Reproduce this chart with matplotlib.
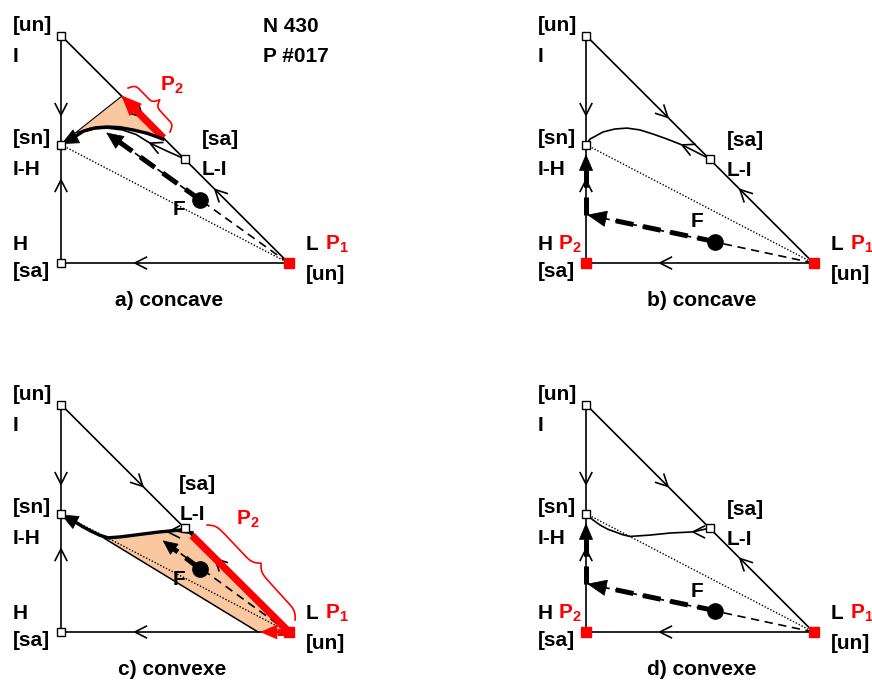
# Diagrammes ternaires I / H / L : chemins de distillation (concave / convexe)
import numpy as np
import matplotlib.pyplot as plt
from matplotlib.patches import Polygon

plt.rcParams['font.family'] = ['Liberation Sans', 'DejaVu Sans']
plt.rcParams['font.weight'] = 'bold'
plt.rcParams['mathtext.fontset'] = 'custom'
plt.rcParams['mathtext.rm'] = 'Liberation Sans:bold'
plt.rcParams['mathtext.bf'] = 'Liberation Sans:bold'
plt.rcParams['lines.scale_dashes'] = False

# Données (x = fraction de L, y = fraction de I)
tri_x = [0.0, 0.0, 1.0, 0.0]
tri_y = [1.0, 0.0, 0.0, 1.0]
pt_I = (0.0, 1.0)
pt_H = (0.0, 0.0)
pt_L = (1.0, 0.0)
pt_IH = (0.0, 0.52)
pt_LI = (0.545, 0.457)

F_ac = (0.611, 0.278)
F_bd = (0.567, 0.094)

# a) concave
courbe_a_x = [0.545, 0.47, 0.391, 0.33, 0.27, 0.202, 0.15, 0.10, 0.05, 0.015]
courbe_a_y = [0.457, 0.49, 0.527, 0.565, 0.585, 0.593, 0.59, 0.578, 0.555, 0.532]
epais_a_x = [0.448, 0.38, 0.316, 0.26, 0.202, 0.15, 0.10, 0.06]
epais_a_y = [0.545, 0.57, 0.585, 0.595, 0.598, 0.594, 0.58, 0.555]
orange_a_x = [0.268, 0.062, 0.127, 0.202, 0.316, 0.448]
orange_a_y = [0.734, 0.571, 0.593, 0.598, 0.585, 0.545]
rouge_a = [(0.45, 0.55), (0.268, 0.734)]
cible_a = (0.202, 0.571)
accolade_a = [(0.295, 0.769), (0.479, 0.576)]

# b) concave
courbe_b_x = [0.545, 0.484, 0.422, 0.356, 0.294, 0.237, 0.18, 0.127, 0.075, 0.018, 0.0]
courbe_b_y = [0.457, 0.488, 0.519, 0.545, 0.567, 0.585, 0.593, 0.589, 0.576, 0.545, 0.52]
cible_bd = (0.009, 0.211)
montee_bd = [(0.0, 0.211), (0.0, 0.475)]

# c) convexe
courbe_c_x = [0.545, 0.50, 0.47, 0.435]
courbe_c_y = [0.457, 0.447, 0.442, 0.440]
epais_c_x = [0.576, 0.51, 0.435, 0.37, 0.316, 0.26, 0.207, 0.171, 0.135, 0.097, 0.065]
epais_c_y = [0.436, 0.447, 0.440, 0.432, 0.425, 0.418, 0.414, 0.425, 0.442, 0.462, 0.482]
orange_c_x = [0.576, 1.0, 0.866, 0.19, 0.26, 0.316, 0.435, 0.51]
orange_c_y = [0.424, 0.0, 0.0, 0.412, 0.418, 0.425, 0.44, 0.447]
bord_c = [(0.19, 0.412), (0.866, 0.0)]
rouge_c = [(0.576, 0.424), (1.0, 0.0)]
retour_c = [(1.0, 0.0), (0.879, 0.0)]
cible_c = (0.45, 0.40)
accolade_c = [(0.642, 0.470), (1.029, 0.053)]

# d) convexe
courbe_d_x = [0.545, 0.47, 0.369, 0.281, 0.193, 0.16, 0.136, 0.095, 0.062, 0.03, 0.0]
courbe_d_y = [0.457, 0.44, 0.435, 0.426, 0.42, 0.428, 0.437, 0.452, 0.470, 0.493, 0.519]

# petites flèches ouvertes sur les bords : (x, y, dx, dy)
chevrons_bords = [(0.0, 0.65, 0, -1), (0.0, 0.365, 0, 1), (0.325, 0.0, -1, 0),
                  (0.36, 0.64, 1, -1), (0.677, 0.323, -1, 1)]
chevron_a = (0.391, 0.527, -1, 0.45)
chevron_b = (0.422, 0.519, -1, 0.45)
chevron_cd = (0.47, 0.44, -1, 0.0)

titres = ['a) concave', 'b) concave', 'c) convexe', 'd) convexe']
titres_x = [0.475, 0.51, 0.49, 0.51]

S = 227.5
ORANGE = '#f9c8a0'
ROUGE = '#ff0000'
TAILLE = 15

fig = plt.figure(figsize=(8.72, 6.8), dpi=100)


def creer_axe(ox, oy):
    ax = fig.add_axes([(ox - 61) / 872, (680 - (oy + 77)) / 680, 436 / 872, 340 / 680])
    ax.set_xlim(-61 / S, 375 / S)
    ax.set_ylim(-77 / S, 263 / S)
    ax.axis('off')
    return ax


def tete(ax, pointe, origine, long, demi, couleur='k', z=6):
    p = np.array(pointe, float)
    d = p - np.array(origine, float)
    d /= np.hypot(*d)
    n = np.array([-d[1], d[0]])
    base = p - d * long
    ax.add_patch(Polygon([p, base + n * demi, base - n * demi], closed=True,
                         facecolor=couleur, edgecolor=couleur, lw=0.5, zorder=z))
    return base


def chevron(ax, c, z=2):
    x, y, dx, dy = c
    d = np.array([dx, dy], float)
    d /= np.hypot(*d)
    for ang in (27, -27):
        a = np.radians(ang)
        r = np.array([[np.cos(a), -np.sin(a)], [np.sin(a), np.cos(a)]]) @ (-d) * 0.06
        ax.plot([x, x + r[0]], [y, y + r[1]], color='k', lw=1.2, zorder=z,
                solid_capstyle='butt')


def accolade(ax, p0, p1, h):
    p0 = np.array(p0, float)
    p1 = np.array(p1, float)
    L = np.hypot(*(p1 - p0))
    d = (p1 - p0) / L
    n = np.array([-d[1], d[0]])
    s = np.linspace(0, 1, 201)
    demi = s[:101]
    beta = 38
    yh = 1 / (1 + np.exp(-beta * demi)) + 1 / (1 + np.exp(-beta * (demi - 0.5)))
    y = np.concatenate((yh, yh[-2::-1])) - 0.5
    pts = p0 + np.outer(s * L, d) + np.outer(y * h, n)
    ax.plot(pts[:, 0], pts[:, 1], color=ROUGE, lw=1.2, zorder=3)


def fleche_tiretee(ax, F, cible, long=0.075, demi=0.033):
    base = tete(ax, cible, F, long, demi)
    ax.plot([F[0], base[0]], [F[1], base[1]], color='k', lw=3.6,
            dashes=(13, 7), zorder=5, solid_capstyle='butt', dash_capstyle='butt')
    ax.plot([pt_L[0], cible[0]], [pt_L[1], cible[1]], color='k', lw=1.2,
            dashes=(6, 4), zorder=2)
    ax.plot(*F, 'o', color='k', ms=11, zorder=7)


def base_triangle(ax, rouges):
    ax.plot(tri_x, tri_y, color='k', lw=1.2, zorder=2)
    ax.plot([pt_IH[0], pt_L[0]], [pt_IH[1], pt_L[1]], color='k', lw=1.0,
            ls=(0, (1, 1.3)), zorder=2)
    for c in chevrons_bords:
        chevron(ax, c)
    for p in [pt_I, pt_IH, pt_LI, pt_H]:
        ax.plot(*p, 's', ms=5.5, mfc='white', mec='k', mew=1.0, zorder=8)
    for p in rouges:
        ax.plot(*p, 's', ms=6.5, color=ROUGE, zorder=9)


def etiquettes(ax, xdroite, ydroite, titre, xtitre, F_lab):
    txt = dict(fontsize=TAILLE, fontweight='bold', va='baseline', zorder=10)
    ax.text(-0.211, 1.020, '[un]', **txt)
    ax.text(-0.211, 0.884, 'I', **txt)
    ax.text(-0.211, 0.523, '[sn]', **txt)
    ax.text(-0.211, 0.387, 'I-H', **txt)
    ax.text(-0.211, 0.057, 'H', **txt)
    ax.text(-0.211, -0.062, '[sa]', **txt)
    ax.text(xdroite, ydroite, '[sa]', **txt)
    ax.text(xdroite, ydroite - 0.132, 'L-I', **txt)
    ax.text(1.075, 0.057, 'L', **txt)
    ax.text(1.075, -0.075, '[un]', **txt)
    ax.text(1.16, 0.057, r'$\mathbf{P_1}$', color=ROUGE, **txt)
    ax.text(F_lab[0], F_lab[1], 'F', ha='center', **txt)
    ax.text(xtitre, -0.189, titre, ha='center', **txt)


# ---- a) concave
ax = creer_axe(61, 263)
base_triangle(ax, [pt_L])
ax.add_patch(Polygon(np.column_stack([orange_a_x, orange_a_y]), closed=True,
                     facecolor=ORANGE, edgecolor='k', lw=0.8, zorder=1))
chevron(ax, chevron_a)
ax.plot(courbe_a_x, courbe_a_y, color='k', lw=1.2, zorder=4)
ax.plot(epais_a_x, epais_a_y, color='k', lw=2.4, zorder=4)
tete(ax, (0.005, 0.525), (0.06, 0.553), 0.07, 0.032)
b = tete(ax, rouge_a[1], rouge_a[0], 0.085, 0.036, ROUGE, 3)
ax.plot([rouge_a[0][0], b[0]], [rouge_a[0][1], b[1]], color=ROUGE, lw=5.2,
        solid_capstyle='butt', zorder=3)
accolade(ax, accolade_a[0], accolade_a[1], 0.065)
fleche_tiretee(ax, F_ac, cible_a, 0.07, 0.032)
etiquettes(ax, 0.62, 0.519, titres[0], titres_x[0], (0.519, 0.211))
ax.text(0.488, 0.756, r'$\mathbf{P_2}$', color=ROUGE, fontsize=TAILLE, ha='center',
        va='baseline')
ax.text(0.888, 1.015, 'N 430', fontsize=TAILLE, fontweight='bold', va='baseline')
ax.text(0.888, 0.884, 'P #017', fontsize=TAILLE, fontweight='bold', va='baseline')

# ---- b) concave et d) convexe
for (ox, oy), cx, cy, titre, xt, F_lab in [
        ((586, 263), courbe_b_x, courbe_b_y, titres[1], titres_x[1], (0.488, 0.158)),
        ((586, 632), courbe_d_x, courbe_d_y, titres[3], titres_x[3], (0.488, 0.154))]:
    ax = creer_axe(ox, oy)
    base_triangle(ax, [pt_L, pt_H])
    ax.plot(cx, cy, color='k', lw=1.2, zorder=4)
    chevron(ax, chevron_b if cx is courbe_b_x else chevron_cd)
    fleche_tiretee(ax, F_bd, cible_bd, 0.08, 0.034)
    b = tete(ax, montee_bd[1], montee_bd[0], 0.068, 0.029)
    ax.plot([montee_bd[0][0], b[0]], [montee_bd[0][1], b[1]], color='k', lw=3.6,
            dashes=(13, 7), zorder=5, dash_capstyle='butt')
    etiquettes(ax, 0.62, 0.514, titre, xt, F_lab)
    ax.text(-0.123, 0.057, r'$\mathbf{P_2}$', color=ROUGE, fontsize=TAILLE,
            va='baseline')

# ---- c) convexe
ax = creer_axe(61, 632)
base_triangle(ax, [pt_L])
ax.add_patch(Polygon(np.column_stack([orange_c_x, orange_c_y]), closed=True,
                     facecolor=ORANGE, edgecolor='none', zorder=1))
ax.plot([bord_c[0][0], bord_c[1][0]], [bord_c[0][1], bord_c[1][1]], color='k',
        lw=1.1, zorder=2)
ax.plot(courbe_c_x, courbe_c_y, color='k', lw=1.2, zorder=4)
chevron(ax, chevron_cd)
ax.plot(epais_c_x, epais_c_y, color='k', lw=2.4, zorder=4)
tete(ax, (0.004, 0.514), (0.065, 0.482), 0.07, 0.03)
ax.plot([rouge_c[0][0], rouge_c[1][0] + 0.015], [rouge_c[0][1], rouge_c[1][1] - 0.012],
        color=ROUGE, lw=5.2, solid_capstyle='butt', zorder=3)
b = tete(ax, retour_c[1], retour_c[0], 0.07, 0.03, ROUGE, 3)
ax.plot([retour_c[0][0] + 0.02, b[0]], [0, 0], color=ROUGE, lw=5, zorder=3,
        solid_capstyle='butt')
accolade(ax, accolade_c[0], accolade_c[1], 0.06)
fleche_tiretee(ax, F_ac, cible_c, 0.06, 0.028)
etiquettes(ax, 0.52, 0.624, titres[2], titres_x[2], (0.519, 0.207))
ax.text(0.822, 0.47, r'$\mathbf{P_2}$', color=ROUGE, fontsize=TAILLE, ha='center',
        va='baseline')

fig.savefig('out.png', dpi=100)
